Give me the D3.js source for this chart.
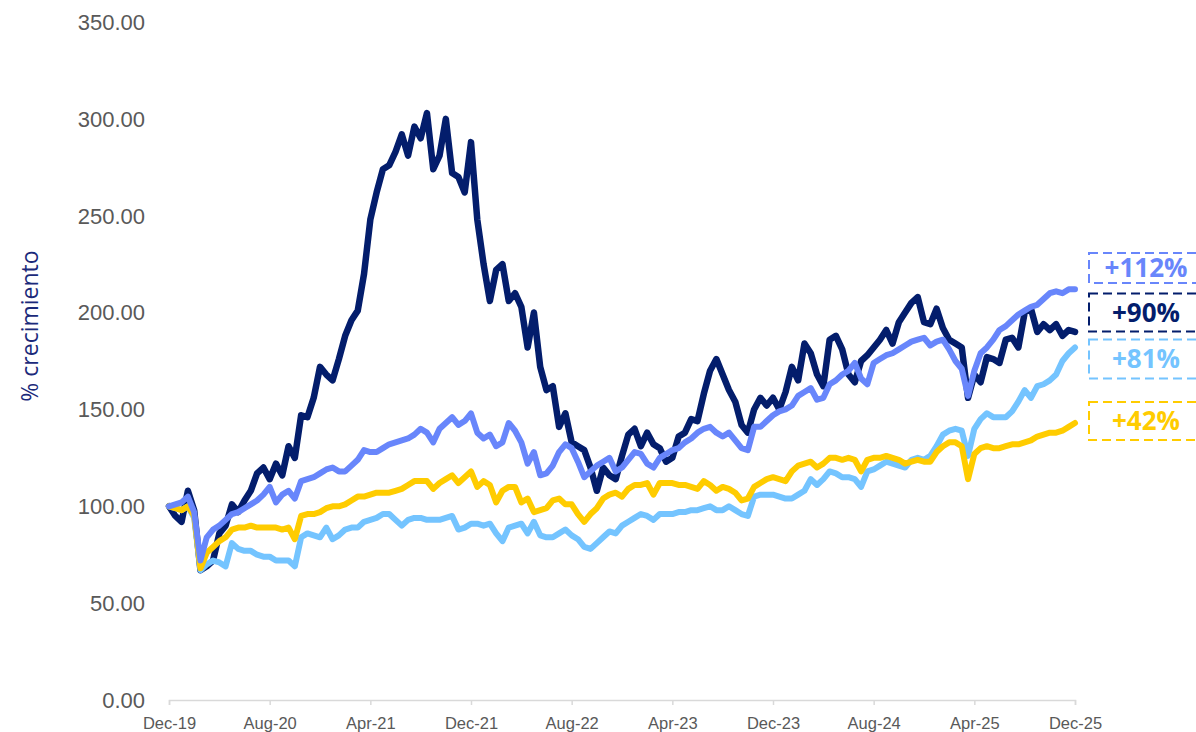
<!DOCTYPE html>
<html>
<head>
<meta charset="utf-8">
<script src="https://cdn.jsdelivr.net/npm/d3@7"></script>
<style>
  body { margin: 0; background: #fff; }
  svg { display: block; }
</style>
</head>
<body>
<div id="chart"></div>
<script>
// Half-month steps from Dec-19 (0) to Dec-25 (72)
const months = d3.range(0, 72.5, 0.5);

const tickMonths = [0, 8, 16, 24, 32, 40, 48, 56, 64, 72];
const tickLabels = ["Dec-19", "Aug-20", "Apr-21", "Dec-21", "Aug-22", "Apr-23", "Dec-23", "Aug-24", "Apr-25", "Dec-25"];
const yTicks = [0, 50, 100, 150, 200, 250, 300, 350];

const navy = [100, 95, 92, 108, 98, 67, 69, 72, 86, 90, 101, 97, 103, 108, 117, 120, 114, 122, 116, 131,
  125, 147, 146, 156, 172, 168, 165, 176, 188, 196, 201, 220, 248, 262, 274, 276, 283, 292, 281, 296,
  290, 303, 274, 281, 300, 272, 270, 262, 288, 248, 225, 206, 222, 225, 206, 210, 203, 182, 200, 172,
  160, 162, 141, 148, 133, 131, 129, 120, 108, 120, 116, 114, 126, 137, 140, 131, 138, 132, 130, 123,
  125, 136, 138, 145, 144, 158, 170, 176, 168, 160, 154, 142, 138, 150, 156, 152, 156, 150, 159, 172,
  165, 184, 179, 168, 162, 186, 188, 181, 168, 164, 175, 178, 182, 186, 191, 184, 195, 200, 205, 208,
  195, 194, 202, 192, 186, 184, 182, 156, 168, 164, 177, 176, 174, 186, 187, 182, 200, 202, 190, 194,
  191, 194, 188, 191, 190];

const midBlue = [100, 101, 102, 105, 97, 72, 84, 88, 90, 93, 96, 97, 99, 101, 103, 106, 110, 102, 106, 108,
  104, 113, 114, 115, 117, 119, 120, 118, 118, 121, 124, 129, 128, 128, 130, 132, 133, 134, 135, 137,
  140, 138, 133, 140, 143, 146, 142, 144, 148, 138, 135, 137, 131, 133, 143, 139, 133, 122, 128, 116,
  117, 121, 128, 132, 130, 123, 115, 118, 121, 123, 125, 118, 120, 124, 128, 127, 122, 120, 125, 127,
  129, 130, 133, 135, 138, 140, 141, 138, 136, 138, 134, 130, 129, 141, 141, 144, 147, 149, 150, 152,
  157, 159, 161, 155, 156, 163, 165, 168, 170, 174, 166, 163, 174, 176, 178, 179, 181, 183, 185, 186,
  187, 183, 185, 186, 181, 175, 171, 157, 170, 179, 182, 186, 191, 193, 196, 199, 201, 203, 204, 207,
  210, 211, 210, 212, 212];

const lightBlue = [100, 99, 98, 100, 94, 67, 70, 72, 71, 69, 81, 78, 77, 77, 75, 74, 74, 72, 72, 72,
  69, 84, 86, 85, 84, 89, 83, 85, 88, 89, 89, 92, 93, 94, 96, 96, 93, 90, 93, 94,
  94, 93, 93, 93, 94, 95, 88, 89, 91, 91, 90, 91, 86, 82, 89, 90, 91, 86, 92, 85,
  84, 84, 86, 88, 85, 83, 79, 78, 81, 84, 87, 86, 90, 92, 94, 96, 95, 93, 96, 96,
  96, 97, 97, 98, 98, 99, 100, 98, 98, 100, 98, 96, 95, 105, 106, 106, 106, 105, 104, 104,
  106, 108, 114, 111, 114, 118, 117, 115, 115, 114, 110, 118, 119, 121, 123, 122, 121, 120, 124, 125,
  124, 126, 131, 137, 139, 140, 139, 126, 140, 145, 148, 146, 146, 146, 149, 154, 160, 156, 162, 163,
  165, 168, 175, 179, 182];

const yellow = [100, 99, 98, 100, 95, 68, 76, 79, 82, 84, 88, 89, 89, 90, 89, 89, 89, 89, 88, 89,
  83, 95, 96, 96, 97, 99, 100, 100, 101, 103, 105, 105, 106, 107, 107, 107, 108, 109, 111, 113,
  113, 113, 109, 112, 114, 116, 112, 115, 118, 110, 113, 111, 102, 108, 110, 110, 102, 104, 97, 98,
  99, 103, 104, 101, 101, 96, 92, 96, 99, 104, 106, 107, 105, 109, 111, 111, 112, 106, 112, 112,
  112, 111, 111, 110, 109, 113, 111, 108, 110, 109, 107, 103, 104, 110, 112, 114, 115, 114, 113, 118,
  121, 122, 123, 120, 122, 125, 125, 124, 125, 124, 118, 124, 125, 125, 126, 125, 124, 122, 123, 124,
  123, 123, 128, 131, 133, 133, 131, 114, 127, 130, 131, 130, 130, 131, 132, 132, 133, 134, 136, 137,
  138, 138, 139, 141, 143];

// drawing order: back to front
const series = [
  { name: "navy", values: navy, color: "#031d6c", width: 6.5 },
  { name: "lightBlue", values: lightBlue, color: "#74c4ff", width: 6 },
  { name: "yellow", values: yellow, color: "#ffcc00", width: 6 },
  { name: "midBlue", values: midBlue, color: "#6886fb", width: 6 }
];

// end labels, anchored at a value on the y axis
const endLabels = [
  { text: "+112%", at: 223, h: 30, color: "#6886fb" },
  { text: "+90%", at: 200, h: 38, color: "#031d6c" },
  { text: "+81%", at: 176, h: 39, color: "#74c4ff" },
  { text: "+42%", at: 144, h: 38, color: "#ffcc00" }
];

const W = 1196, H = 732;
const svg = d3.select("#chart").append("svg")
  .attr("width", W)
  .attr("height", H)
  .style("background", "#fff");

const x = d3.scaleLinear().domain([0, 72]).range([169, 1075]);
const y = d3.scaleLinear().domain([0, 350]).range([700, 22]);

// y tick labels (no axis line)
svg.append("g")
  .selectAll("text")
  .data(yTicks)
  .join("text")
  .attr("x", 145)
  .attr("y", d => y(d))
  .attr("dy", "0.36em")
  .attr("text-anchor", "end")
  .attr("font-family", "Liberation Sans, Arial, sans-serif")
  .attr("font-size", 22)
  .attr("fill", "#595959")
  .text(d => d.toFixed(2));

// y title
svg.append("text")
  .attr("transform", `translate(38,326) rotate(-90)`)
  .attr("text-anchor", "middle")
  .attr("font-family", "Open Sans, sans-serif")
  .attr("font-size", 23)
  .attr("fill", "#1b2a7a")
  .text("% crecimiento");

// x axis
const xAxis = svg.append("g")
  .attr("transform", `translate(0,700)`)
  .call(d3.axisBottom(x)
    .tickValues(tickMonths)
    .tickFormat((d, i) => tickLabels[i])
    .tickSize(5)
    .tickPadding(12));

xAxis.select(".domain").attr("stroke", "#d9d9d9").attr("stroke-width", 1.5);
xAxis.selectAll(".tick line").attr("stroke", "#d9d9d9").attr("stroke-width", 1.5);
xAxis.selectAll(".tick text")
  .attr("font-family", "Liberation Sans, Arial, sans-serif")
  .attr("font-size", 16.5)
  .attr("fill", "#595959");

// lines
const line = d3.line()
  .x((d, i) => x(months[i]))
  .y(d => y(d));

svg.append("g")
  .selectAll("path")
  .data(series)
  .join("path")
  .attr("fill", "none")
  .attr("stroke", d => d.color)
  .attr("stroke-width", d => d.width)
  .attr("stroke-linejoin", "round")
  .attr("stroke-linecap", "round")
  .attr("d", d => line(d.values));

// end labels with dashed boxes
const lab = svg.append("g")
  .selectAll("g")
  .data(endLabels)
  .join("g")
  .attr("transform", d => `translate(1088,${y(d.at) - d.h / 2})`);

lab.append("rect")
  .attr("x", 1)
  .attr("y", 0)
  .attr("width", 118)
  .attr("height", d => d.h)
  .attr("fill", "none")
  .attr("stroke", d => d.color)
  .attr("stroke-width", 2)
  .attr("stroke-dasharray", "9,5");

lab.append("text")
  .attr("x", 58)
  .attr("y", d => d.h / 2)
  .attr("dy", "0.36em")
  .attr("text-anchor", "middle")
  .attr("font-family", "Open Sans, sans-serif")
  .attr("font-weight", "bold")
  .attr("font-size", 26)
  .attr("fill", d => d.color)
  .text(d => d.text);
</script>
</body>
</html>
